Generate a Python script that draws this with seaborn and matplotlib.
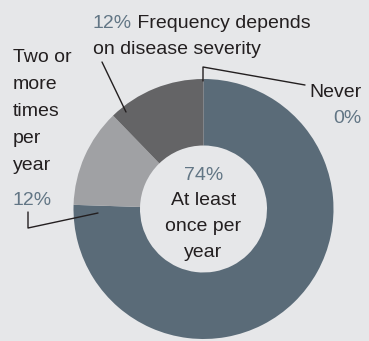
import matplotlib
matplotlib.use("Agg")
import matplotlib.pyplot as plt
import seaborn as sns

# Survey answers, clockwise from 12 o'clock
categories = ["At least once per year", "Two or more times per year",
              "Frequency depends on disease severity", "Never"]
shares = [74, 12, 12, 0]
slice_colors = ["#5a6b78", "#a0a1a4", "#646466", "#e6e7e9"]

BG = "#e6e7e9"
INK = "#231f20"
PCT = "#627685"

sns.set_theme(style="white")
plt.rcParams["font.family"] = ["Liberation Sans", "DejaVu Sans"]

W, H = 369, 341
fig = plt.figure(figsize=(W / 100, H / 100), dpi=100, facecolor=BG)
ax = fig.add_axes([0, 0, 1, 1], facecolor=BG)
ax.set_xlim(0, W)
ax.set_ylim(0, H)
ax.set_aspect("equal")
ax.axis("off")


def Y(y):
    # top-down pixel row to axes y
    return H - y


cx, cy, R, r_in = 203.5, 209, 130, 63.5
ax.pie(shares, colors=slice_colors, startangle=90, counterclock=False,
       radius=R, center=(cx, Y(cy)),
       wedgeprops=dict(width=R - r_in, linewidth=0))
ax.set_xlim(0, W)
ax.set_ylim(0, H)

fs = 14

# centre label
ax.text(cx, Y(180), f"{shares[0]}%", color=PCT, fontsize=fs, ha="center", va="baseline")
for i, line in enumerate(["At least", "once per", "year"]):
    ax.text(cx, Y(205 + 26 * i), line, color=INK, fontsize=fs, ha="center", va="baseline")

# top label
t1 = ax.text(93, Y(28), f"{shares[2]}%", color=PCT, fontsize=fs, ha="left", va="baseline")
ax.annotate(" Frequency depends", xycoords=t1, xy=(1, 0), va="bottom", ha="left",
            color=INK, fontsize=fs)
ax.text(93, Y(54), "on disease severity", color=INK, fontsize=fs, ha="left", va="baseline")
ax.plot([102, 126], [Y(62), Y(112)], color=INK, lw=1)

# left label
for i, line in enumerate(["Two or", "more", "times", "per", "year"]):
    ax.text(13, Y(62 + 27 * i), line, color=INK, fontsize=fs, ha="left", va="baseline")
ax.text(13, Y(205), f"{shares[1]}%", color=PCT, fontsize=fs, ha="left", va="baseline")
ax.plot([28, 28, 98], [Y(212), Y(228), Y(213)], color=INK, lw=1)

# right label
ax.text(362, Y(97), "Never", color=INK, fontsize=fs, ha="right", va="baseline")
ax.text(347, Y(123), f"{shares[3]}%", color=PCT, fontsize=fs, ha="center", va="baseline")
ax.plot([203, 203, 305], [Y(81), Y(67), Y(85)], color=INK, lw=1)

fig.savefig("out.png", dpi=100, facecolor=BG)
